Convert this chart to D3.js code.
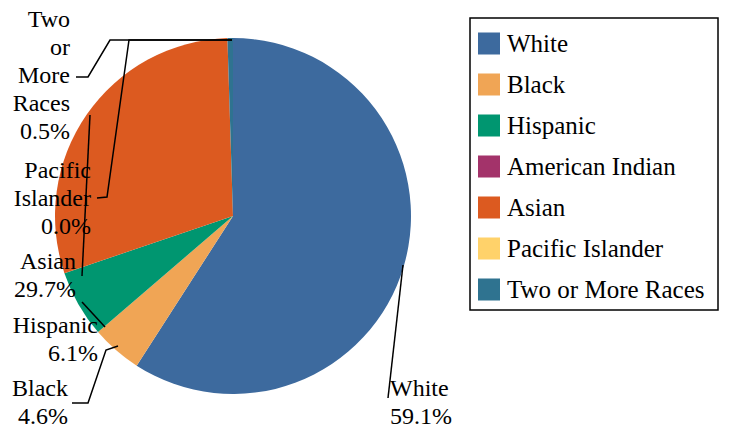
<!DOCTYPE html>
<html><head><meta charset="utf-8">
<script src="https://cdn.jsdelivr.net/npm/d3@7"></script>
<style>body{margin:0;background:#fff}</style>
</head><body><svg id="c" width="732" height="428"></svg>
<script>
const categories = ["White","Black","Hispanic","American Indian","Asian","Pacific Islander","Two or More Races"];
const values = [59.1,4.6,6.1,0.0,29.7,0.0,0.5];
const colors = ["#3d6a9e","#f0a555","#009670","#a3336a","#dc5a20","#ffd26a","#2f7390"];
const labelText = {
  "White":["White","59.1%"], "Black":["Black","4.6%"], "Hispanic":["Hispanic","6.1%"],
  "Asian":["Asian","29.7%"], "Pacific Islander":["Pacific","Islander","0.0%"],
  "Two or More Races":["Two","or","More","Races","0.5%"]
};
// label layout: text anchor x, first baseline y, anchor, leader path
const labelLayout = {
  "White":{x:390,y:396,a:"start",path:[[388,398],[403,265]]},
  "Black":{x:68,y:396,a:"end",path:[[72,403],[88,403],[106,350],[118,346]]},
  "Hispanic":{x:98,y:333,a:"end",path:[[82,302],[105,327]]},
  "Asian":{x:76,y:269,a:"end",path:[[82,276],[90,115]]},
  "Pacific Islander":{x:91,y:178,a:"end",path:[[97,198],[107,197],[129,40],[232,40]]},
  "Two or More Races":{x:70,y:27,a:"end",path:[[76,77],[88,77],[110,40],[232,40]]}
};
const FONT = "Liberation Serif";
const svg = d3.select("#c");
const cx = 233, cy = 216, r = 178;
const pie = d3.pie().sort(null).value(d => d.v);
const arc = d3.arc().innerRadius(0).outerRadius(r);
const data = categories.map((c,i) => ({c, v: values[i], col: colors[i]}));
const g = svg.append("g").attr("transform", `translate(${cx},${cy})`);
g.selectAll("path").data(pie(data)).enter().append("path")
  .attr("d", arc).attr("fill", d => d.data.col);

const line = d3.line();
Object.entries(labelLayout).forEach(([k, L]) => {
  svg.append("path").attr("d", line(L.path)).attr("fill","none").attr("stroke","#000").attr("stroke-width",1.5);
  const t = svg.append("text").attr("text-anchor", L.a).attr("font-family", FONT).attr("font-size", 24);
  labelText[k].forEach((s,i) => t.append("tspan").attr("x", L.x).attr("y", L.y + i*28).text(s));
});

// legend
svg.append("rect").attr("x",470).attr("y",18).attr("width",248).attr("height",292)
  .attr("fill","#fff").attr("stroke","#000").attr("stroke-width",1.5);
const y = d3.scaleBand().domain(categories).range([23,310]);
const lg = svg.selectAll("g.lg").data(data).enter().append("g");
lg.append("rect").attr("x",478).attr("y",d => y(d.c)+y.bandwidth()/2-11).attr("width",22).attr("height",22).attr("fill",d=>d.col);
lg.append("text").attr("x",507).attr("y",d => y(d.c)+y.bandwidth()/2+8)
  .attr("font-family", FONT).attr("font-size", 25).text(d=>d.c);
</script></body></html>
